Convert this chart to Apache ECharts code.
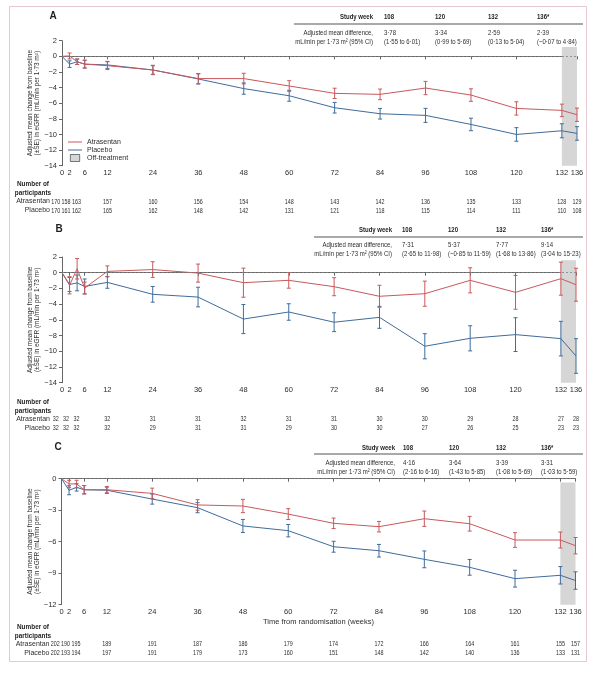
<!DOCTYPE html>
<html><head><meta charset="utf-8">
<script src="https://cdn.jsdelivr.net/npm/echarts@6/dist/echarts.min.js"></script>
<style>html,body{margin:0;padding:0;background:#fff}#c{width:597px;height:680px}</style>
</head><body><div id="c"></div>
<script>
// ---------- DATA ----------
const weeks = [0, 2, 4, 6, 12, 24, 36, 48, 60, 72, 84, 96, 108, 120, 132, 136];
const xTickWeeks = [0, 2, 6, 12, 24, 36, 48, 60, 72, 84, 96, 108, 120, 132, 136];
const riskWeeks = [0, 2, 6, 12, 24, 36, 48, 60, 72, 84, 96, 108, 120, 132, 136];
const groups = ['Atrasentan', 'Placebo'];
const offTreatmentWeeks = [132, 136];

// Panel A
const aAtrasentanMean = [0, 0.05, -0.7, -1.0, -1.2, -1.75, -2.85, -2.85, -3.8, -4.74, -4.87, -4.06, -4.96, -6.67, -6.92, -7.48];
const aAtrasentanSE   = [0, 0.38, 0.35, 0.5, 0.5, 0.6, 0.64, 0.68, 0.68, 0.66, 0.68, 0.85, 0.8, 0.85, 0.8, 0.85];
const aPlaceboMean    = [0, -1.0, -0.7, -1.0, -1.1, -1.75, -2.9, -4.13, -5.05, -6.58, -7.35, -7.56, -8.72, -10.0, -9.53, -9.87];
const aPlaceboSE      = [0, 0.42, 0.35, 0.5, 0.45, 0.55, 0.65, 0.72, 0.7, 0.68, 0.68, 0.9, 0.8, 0.87, 0.9, 0.87];
const aAtrasentanN = [170, 158, 163, 157, 160, 156, 154, 148, 143, 142, 136, 135, 133, 128, 129];
const aPlaceboN    = [170, 161, 162, 165, 162, 148, 142, 131, 121, 118, 115, 114, 111, 110, 108];
const aDiff = ['3·78', '3·34', '2·59', '2·39'];
const aCI   = ['(1·55 to 6·01)', '(0·99 to 5·69)', '(0·13 to 5·04)', '(−0·07 to 4·84)'];

// Panel B
const bAtrasentanMean = [0, -1.6, 0.5, -1.95, 0.17, 0.4, -0.05, -1.27, -0.97, -1.78, -3.0, -2.67, -0.97, -2.5, -0.76, -1.53];
const bAtrasentanSE   = [0, 1.1, 1.3, 0.75, 0.7, 1.0, 1.15, 1.85, 1.0, 1.15, 1.4, 1.6, 1.6, 2.15, 2.1, 2.1];
const bPlaceboMean    = [0, -1.5, -1.3, -1.75, -1.23, -2.75, -3.1, -5.9, -5.0, -6.3, -5.68, -9.36, -8.35, -7.88, -8.39, -10.6];
const bPlaceboSE      = [0, 0.9, 1.0, 0.95, 0.75, 1.0, 1.25, 1.85, 1.05, 1.2, 1.4, 1.6, 1.6, 2.15, 2.2, 2.2];
const bAtrasentanN = [32, 32, 32, 32, 31, 31, 32, 31, 31, 30, 30, 29, 28, 27, 28];
const bPlaceboN    = [32, 32, 32, 32, 29, 31, 31, 29, 30, 30, 27, 26, 25, 23, 23];
const bDiff = ['7·31', '5·37', '7·77', '9·14'];
const bCI   = ['(2·65 to 11·98)', '(−0·85 to 11·59)', '(1·68 to 13·86)', '(3·04 to 15·23)'];

// Panel C
const cAtrasentanMean = [0, -0.5, -0.5, -1.05, -1.05, -1.4, -2.5, -2.6, -3.37, -4.25, -4.57, -3.81, -4.29, -5.84, -5.84, -6.38];
const cAtrasentanSE   = [0, 0.35, 0.35, 0.4, 0.3, 0.5, 0.5, 0.63, 0.52, 0.5, 0.5, 0.73, 0.7, 0.7, 0.76, 0.78];
const cPlaceboMean    = [0, -1.1, -0.83, -1.05, -1.1, -1.94, -2.76, -4.5, -4.95, -6.48, -6.86, -7.68, -8.44, -9.52, -9.2, -9.7];
const cPlaceboSE      = [0, 0.43, 0.35, 0.4, 0.3, 0.48, 0.48, 0.62, 0.59, 0.52, 0.6, 0.8, 0.75, 0.8, 0.83, 0.83];
const cAtrasentanN = [202, 190, 195, 189, 191, 187, 186, 179, 174, 172, 166, 164, 161, 155, 157];
const cPlaceboN    = [202, 193, 194, 197, 191, 179, 173, 160, 151, 148, 142, 140, 136, 133, 131];
const cDiff = ['4·16', '3·64', '3·39', '3·31'];
const cCI   = ['(2·16 to 6·16)', '(1·43 to 5·85)', '(1·08 to 5·69)', '(1·03 to 5·59)'];

const studyWeekHeaders = ['108', '120', '132', '136*'];

// ---------- STYLE / LAYOUT ----------
const RED = '#c9585c', BLUE = '#3f6c9c', BAND = '#d6d6d6';
const FONT = "'Liberation Sans', Arial, sans-serif";
const TXT = '#2e2e2e', AX = '#666666';
const riskShift = [-6.3, -3.6, -8.2];
const NARROW = 0.8, NUMNARROW = 0.72;

const panels = [
  { letter: 'A', letterXY: [53, 16], grid: {left: 62, top: 40.7, width: 515, height: 125}, ymin: -14, ymax: 2, yint: 2, bandTop: 1.2,
    atr: [aAtrasentanMean, aAtrasentanSE], pla: [aPlaceboMean, aPlaceboSE], n: [aAtrasentanN, aPlaceboN],
    numGrid: {left: 62, top: 197, width: 515, height: 18}, numTitleY: [184, 193],
    tbl: {right: 373, cols: [384, 435, 488, 537], hY: 17, ruleY: 24, ruleX: [294, 583], r1: 33, r2: 42}, diff: aDiff, ci: aCI },
  { letter: 'B', letterXY: [59, 229], grid: {left: 62, top: 257, width: 514, height: 125.7}, ymin: -14, ymax: 2, yint: 2, bandTop: 1.6,
    atr: [bAtrasentanMean, bAtrasentanSE], pla: [bPlaceboMean, bPlaceboSE], n: [bAtrasentanN, bPlaceboN],
    numGrid: {left: 62, top: 414.5, width: 514, height: 18}, numTitleY: [402, 411],
    tbl: {right: 392, cols: [402, 448, 496, 541], hY: 230, ruleY: 237, ruleX: [314, 583], r1: 245, r2: 254}, diff: bDiff, ci: bCI },
  { letter: 'C', letterXY: [58, 447], grid: {left: 61.5, top: 478.7, width: 514, height: 126}, ymin: -12, ymax: 0, yint: 3, bandTop: -0.35,
    atr: [cAtrasentanMean, cAtrasentanSE], pla: [cPlaceboMean, cPlaceboSE], n: [cAtrasentanN, cPlaceboN],
    numGrid: {left: 61.5, top: 639.5, width: 514, height: 18}, numTitleY: [627, 636],
    tbl: {right: 395, cols: [403, 449, 496, 541], hY: 448, ruleY: 454, ruleX: [314, 583], r1: 463, r2: 472}, diff: cDiff, ci: cCI,
    xName: 'Time from randomisation (weeks)' }
];

const fmtNum = v => String(v).replace('-', '\u2212');

const grids = [], xAxes = [], yAxes = [], series = [], graphics = [];

graphics.push({type: 'rect', shape: {x: 9.5, y: 6.5, width: 577, height: 655}, style: {fill: 'none', stroke: '#e6c9cf', lineWidth: 1}, z: 0});

function errRender(color) {
  return function (params, api) {
    const x = api.value(0), m = api.value(1), se = api.value(2);
    if (!se) return null;
    const t = api.coord([x, m + se]), b = api.coord([x, m - se]);
    const hw = 2, st = {stroke: color, lineWidth: 1};
    return {type: 'group', children: [
      {type: 'line', shape: {x1: t[0], y1: t[1], x2: b[0], y2: b[1]}, style: st},
      {type: 'line', shape: {x1: t[0] - hw, y1: t[1], x2: t[0] + hw, y2: t[1]}, style: st},
      {type: 'line', shape: {x1: b[0] - hw, y1: b[1], x2: b[0] + hw, y2: b[1]}, style: st}
    ]};
  };
}

function numRender(params, api) {
  const c = api.coord([api.value(0), api.value(1)]);
  const j = params.dataIndex % riskWeeks.length;
  const sh = j < riskShift.length ? riskShift[j] : 0;
  return {type: 'text', x: c[0] + sh, y: c[1], scaleX: NUMNARROW,
    style: {text: String(api.value(2)), fontSize: 7.5, fontFamily: FONT, fill: TXT, align: 'center', verticalAlign: 'middle'}};
}

panels.forEach((p, i) => {
  grids.push(p.grid);
  const gi = i;
  xAxes.push({gridIndex: gi, type: 'value', min: 0, max: 136,
    axisLine: {show: true, lineStyle: {color: AX, width: 1}},
    axisTick: {show: true, customValues: xTickWeeks, length: 3, lineStyle: {color: AX}},
    axisLabel: {customValues: xTickWeeks, fontSize: 7.5, color: TXT, fontFamily: FONT, margin: 3},
    splitLine: {show: false},
    name: p.xName || '', nameLocation: 'middle', nameGap: 13.5,
    nameTextStyle: {fontSize: 7.5, color: TXT, fontFamily: FONT}});
  yAxes.push({gridIndex: gi, type: 'value', min: p.ymin, max: p.ymax, interval: p.yint,
    axisLine: {show: true, lineStyle: {color: AX, width: 1}},
    axisTick: {show: true, length: 3, lineStyle: {color: AX}},
    axisLabel: {fontSize: 7.5, color: TXT, fontFamily: FONT, margin: 5, formatter: fmtNum},
    splitLine: {show: false}});

  series.push({name: 'Off-treatment', type: 'line', xAxisIndex: gi, yAxisIndex: gi, data: [], z: 1,
    itemStyle: {color: BAND},
    markArea: {silent: true, itemStyle: {color: BAND},
      data: [[{xAxis: offTreatmentWeeks[0], yAxis: p.bandTop}, {xAxis: offTreatmentWeeks[1], yAxis: p.ymin}]]}});

  const defs = [[groups[1], BLUE, p.pla], [groups[0], RED, p.atr]];
  defs.forEach(([nm, col, d], k) => {
    series.push({name: nm, type: 'line', xAxisIndex: gi, yAxisIndex: gi, symbol: 'none', z: 3 + k,
      lineStyle: {color: col, width: 1}, itemStyle: {color: col},
      data: weeks.map((w, j) => [w, d[0][j]]),
      markLine: k === 0 ? {silent: true, symbol: ['none', 'none'], label: {show: false},
        lineStyle: {type: [2, 2], color: '#808080', width: 0.8}, data: [{yAxis: 0}]} : undefined});
    series.push({name: nm + ' SE', type: 'custom', xAxisIndex: gi, yAxisIndex: gi, z: 3 + k,
      renderItem: errRender(col), encode: {x: 0, y: 1},
      data: weeks.map((w, j) => [w, d[0][j], d[1][j]])});
  });
});

// number-at-risk grids
panels.forEach((p, i) => {
  const gi = 3 + i;
  grids.push(p.numGrid);
  xAxes.push({gridIndex: gi, type: 'value', min: 0, max: 136, show: false});
  yAxes.push({gridIndex: gi, type: 'category', data: groups, inverse: true,
    axisLine: {show: false}, axisTick: {show: false}, splitLine: {show: false},
    axisLabel: {interval: 0, fontSize: 7, color: TXT, fontFamily: FONT, margin: 12}});
  const pts = [];
  groups.forEach((g, gIdx) => {
    riskWeeks.forEach((w, j) => pts.push([w, gIdx, p.n[gIdx][j]]));
  });
  series.push({name: 'N' + i, type: 'custom', xAxisIndex: gi, yAxisIndex: gi, silent: true,
    renderItem: numRender, encode: {x: 0, y: 1}, data: pts});
});

function txt(x, y, text, o) {
  o = o || {};
  return {type: 'text', x: x, y: y, scaleX: o.sx || 1, rotation: o.rot || 0,
    style: {text: text, fontSize: o.fs || 7.5, fontWeight: o.bold ? 'bold' : 'normal', fontFamily: FONT,
      fill: o.fill || TXT, align: o.align || 'left', verticalAlign: 'middle', lineHeight: o.lh}};
}

panels.forEach((p) => {
  graphics.push(txt(p.letterXY[0], p.letterXY[1], p.letter, {fs: 10, bold: true, fill: '#1e1e1e', align: 'center'}));
  const cy = p.grid.top + p.grid.height / 2;
  graphics.push(txt(33.5, cy, 'Adjusted mean change from baseline\n(±SE) in eGFR (mL/min per 1·73 m²)',
    {fs: 7, lh: 7.5, align: 'center', rot: Math.PI / 2, sx: 0.92}));
  graphics.push(txt(33, p.numTitleY[0], 'Number of', {fs: 8, bold: true, fill: '#1e1e1e', align: 'center', sx: NARROW}));
  graphics.push(txt(33, p.numTitleY[1], 'participants', {fs: 8, bold: true, fill: '#1e1e1e', align: 'center', sx: NARROW}));
  const t = p.tbl;
  graphics.push(txt(t.right, t.hY, 'Study week', {bold: true, fill: '#1e1e1e', align: 'right', sx: NARROW}));
  graphics.push({type: 'line', shape: {x1: t.ruleX[0], y1: t.ruleY, x2: t.ruleX[1], y2: t.ruleY}, style: {stroke: '#8c8c8c', lineWidth: 1.5}});
  graphics.push(txt(t.right, t.r1, 'Adjusted mean difference,', {align: 'right', sx: NARROW}));
  graphics.push(txt(t.right, t.r2, 'mL/min per 1·73 m² (95% CI)', {align: 'right', sx: NARROW}));
  studyWeekHeaders.forEach((h, k) => {
    graphics.push(txt(t.cols[k], t.hY, h, {bold: true, fill: '#1e1e1e', sx: NARROW}));
    graphics.push(txt(t.cols[k], t.r1, p.diff[k], {sx: NARROW}));
    graphics.push(txt(t.cols[k], t.r2, p.ci[k], {sx: NARROW}));
  });
});

const chart = echarts.init(document.getElementById('c'), null, {renderer: 'canvas'});
chart.setOption({
  animation: false,
  backgroundColor: '#fff',
  textStyle: {fontFamily: FONT},
  grid: grids, xAxis: xAxes, yAxis: yAxes, series: series,
  legend: {left: 68, top: 138, orient: 'vertical', itemWidth: 14, itemHeight: 7, itemGap: 0, padding: 0,
    selectedMode: false,
    textStyle: {fontSize: 7, color: TXT, fontFamily: FONT, lineHeight: 8},
    data: [
      {name: 'Atrasentan', icon: 'path://M0,0H14V1H0Z', itemStyle: {color: RED}},
      {name: 'Placebo', icon: 'path://M0,0H14V1H0Z', itemStyle: {color: BLUE}},
      {name: 'Off-treatment', icon: 'path://M0,0H8V6H0Z', itemStyle: {color: BAND, borderColor: '#555', borderWidth: 0.8}}
    ]},
  graphic: graphics
});
</script></body></html>
